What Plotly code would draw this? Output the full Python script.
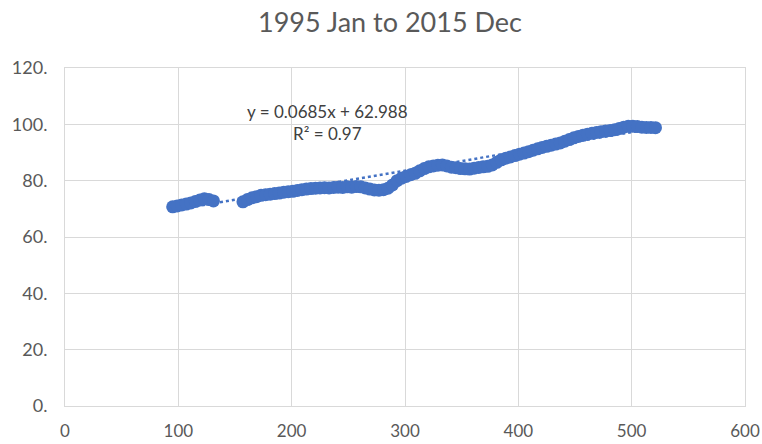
import plotly.graph_objects as go

# ---- data ----
x_seg1 = [95, 99, 103, 107, 111, 115, 119, 123, 127, 131]
y_seg1 = [70.7, 71.0, 71.4, 71.7, 72.1, 72.6, 73.1, 73.6, 73.3, 72.8]

x_seg2 = [157, 161, 165, 169, 173, 177, 181, 185, 189, 193,
          197, 201, 205, 209, 213, 217, 221, 225, 229, 233,
          237, 241, 245, 249, 253, 257, 261, 265, 269, 273,
          277, 281, 285, 289, 293, 297, 301, 305, 309, 313,
          317, 321, 325, 329, 333, 337, 341, 345, 349, 353,
          357, 361, 365, 369, 373, 377, 381, 385, 389, 393,
          397, 401, 405, 409, 413, 417, 421, 425, 429, 433,
          437, 441, 445, 449, 453, 457, 461, 465, 469, 473,
          477, 481, 485, 489, 493, 497, 501, 505, 509, 513,
          517, 521]
y_seg2 = [72.5, 73.3, 73.9, 74.3, 74.8, 75.0, 75.2, 75.4, 75.6, 75.9,
          76.1, 76.2, 76.5, 76.8, 77.0, 77.2, 77.3, 77.4, 77.5, 77.4,
          77.6, 77.7, 77.6, 77.8, 77.7, 77.9, 77.8, 77.4, 77.0, 76.7,
          76.6, 76.8, 77.3, 78.5, 80.0, 80.9, 81.5, 82.1, 82.6, 83.5,
          84.3, 84.9, 85.2, 85.5, 85.6, 85.2, 84.8, 84.6, 84.3, 84.2,
          84.1, 84.4, 84.7, 84.9, 85.1, 85.6, 86.5, 87.4, 88.0, 88.4,
          88.9, 89.4, 89.8, 90.3, 90.8, 91.3, 91.8, 92.2, 92.6, 93.0,
          93.4, 94.0, 94.6, 95.2, 95.7, 96.1, 96.5, 96.8, 97.1, 97.4,
          97.6, 97.8, 98.1, 98.5, 99.0, 99.3, 99.3, 99.2, 99.0, 98.9,
          98.9, 98.8]

trend_slope = 0.0685
trend_intercept = 62.988
r_squared = "0.97"

x_ticks = [0, 100, 200, 300, 400, 500, 600]
x_tick_labels = ["0", "100", "200", "300", "400", "500", "600"]
y_ticks = [0, 20, 40, 60, 80, 100, 120]
y_tick_labels = ["0.", "20.", "40.", "60.", "80.", "100.", "120."]

title_text = "1995 Jan to 2015 Dec"

# ---- figure ----
blue = "#4472C4"
grey_text = "#595959"
grid = "#d9d9d9"
font_family = "Lato, 'Open Sans', sans-serif"

all_x = x_seg1 + x_seg2
all_y = y_seg1 + y_seg2
tx = [min(all_x), max(all_x)]
ty = [trend_slope * v + trend_intercept for v in tx]

fig = go.Figure()
fig.add_trace(go.Scatter(
    x=tx, y=ty, mode="lines",
    line=dict(color=blue, width=2.5, dash="dot"),
    hoverinfo="skip", showlegend=False,
))
fig.add_trace(go.Scatter(
    x=all_x, y=all_y, mode="markers",
    marker=dict(color=blue, size=13, line=dict(width=0)),
    showlegend=False,
))

fig.add_annotation(
    x=232, y=104.6, xref="x", yref="y", showarrow=False,
    text=f"y = {trend_slope}x + {trend_intercept}",
    font=dict(family=font_family, size=17, color="#404040"),
)
fig.add_annotation(
    x=232, y=96.8, xref="x", yref="y", showarrow=False,
    text=f"R² = {r_squared}",
    font=dict(family=font_family, size=17, color="#404040"),
)

fig.update_layout(
    width=762, height=444,
    margin=dict(l=65, r=17, t=68, b=38),
    paper_bgcolor="white", plot_bgcolor="white",
    title=dict(text=title_text, x=390 / 762, xanchor="center",
               y=1 - 23 / 444, yanchor="middle",
               font=dict(family=font_family, size=27, color=grey_text)),
    font=dict(family=font_family, color=grey_text, size=18),
)
fig.update_xaxes(
    range=[0, 600], tickvals=x_ticks, ticktext=x_tick_labels,
    showgrid=True, gridcolor=grid, gridwidth=1,
    showline=True, linecolor=grid, linewidth=1, mirror=True,
    zeroline=False, ticks="", ticklabelstandoff=10, automargin=False,
    tickfont=dict(family=font_family, size=17, color=grey_text),
)
fig.update_yaxes(
    range=[0, 120], tickvals=y_ticks, ticktext=y_tick_labels,
    showgrid=True, gridcolor=grid, gridwidth=1,
    showline=True, linecolor=grid, linewidth=1, mirror=True,
    zeroline=False, ticks="", ticklabelstandoff=13, automargin=False,
    tickfont=dict(family=font_family, size=18, color=grey_text),
)

fig.write_html(
    "out.html",
    config={"displayModeBar": False},
    post_script="document.body.style.margin='0';document.body.style.overflow='hidden';",
)
